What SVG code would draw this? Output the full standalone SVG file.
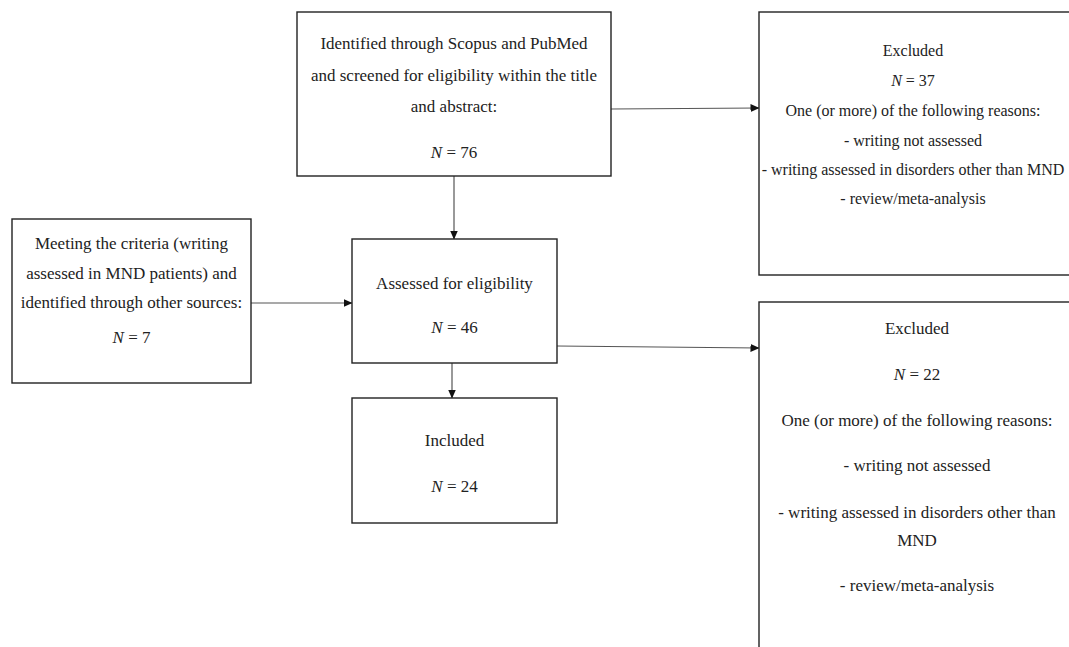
<svg xmlns="http://www.w3.org/2000/svg" width="1069" height="647" viewBox="0 0 1069 647">
<style>
.box{fill:#fff;stroke:#222;stroke-width:1.4}
.t{font-family:"Liberation Serif","Times New Roman",serif;font-size:17px;fill:#222;text-anchor:middle}
.s{font-size:16px}
.i{font-style:italic}
.c{stroke:#555;stroke-width:1.2;fill:none}
</style>
<defs>
<marker id="ah" markerUnits="userSpaceOnUse" markerWidth="9" markerHeight="8" refX="8.5" refY="4" orient="auto">
<path d="M0,0 L9,4 L0,8 z" fill="#111"/>
</marker>
</defs>
<rect width="1069" height="647" fill="#fff"/>
<g id="connectors">
<line class="c" x1="454" y1="176" x2="454" y2="239" marker-end="url(#ah)"/>
<line class="c" x1="251" y1="303" x2="352" y2="303" marker-end="url(#ah)"/>
<line class="c" x1="611" y1="109" x2="759" y2="108" marker-end="url(#ah)"/>
<line class="c" x1="557" y1="346" x2="759" y2="348" marker-end="url(#ah)"/>
<line class="c" x1="452" y1="363" x2="452" y2="398" marker-end="url(#ah)"/>
</g>
<g id="identified">
<rect class="box" x="297" y="12" width="314" height="164"/>
<text class="t" x="454" y="49">Identified through Scopus and PubMed</text>
<text class="t" x="454" y="81">and screened for eligibility within the title</text>
<text class="t" x="454" y="112">and abstract:</text>
<text class="t" x="454" y="158"><tspan class="i">N</tspan> = 76</text>
</g>
<g id="excluded1">
<rect class="box" x="759" y="12" width="312" height="263"/>
<text class="t s" x="913" y="56">Excluded</text>
<text class="t s" x="913" y="86"><tspan class="i">N</tspan> = 37</text>
<text class="t s" x="913" y="116">One (or more) of the following reasons:</text>
<text class="t s" x="913" y="146">- writing not assessed</text>
<text class="t s" x="913" y="175">- writing assessed in disorders other than MND</text>
<text class="t s" x="913" y="204">- review/meta-analysis</text>
</g>
<g id="other-sources">
<rect class="box" x="12" y="219" width="239" height="164"/>
<text class="t" x="131.5" y="249">Meeting the criteria (writing</text>
<text class="t" x="131.5" y="279">assessed in MND patients) and</text>
<text class="t" x="131.5" y="308">identified through other sources:</text>
<text class="t" x="131.5" y="343"><tspan class="i">N</tspan> = 7</text>
</g>
<g id="assessed">
<rect class="box" x="352" y="239" width="205" height="124"/>
<text class="t" x="454.5" y="289">Assessed for eligibility</text>
<text class="t" x="454.5" y="333"><tspan class="i">N</tspan> = 46</text>
</g>
<g id="included">
<rect class="box" x="352" y="398" width="205" height="125"/>
<text class="t" x="454.5" y="446">Included</text>
<text class="t" x="454.5" y="492"><tspan class="i">N</tspan> = 24</text>
</g>
<g id="excluded2">
<rect class="box" x="759" y="302" width="316" height="360"/>
<text class="t" x="917" y="334">Excluded</text>
<text class="t" x="917" y="380"><tspan class="i">N</tspan> = 22</text>
<text class="t" x="917" y="426">One (or more) of the following reasons:</text>
<text class="t" x="917" y="471">- writing not assessed</text>
<text class="t" x="917" y="518">- writing assessed in disorders other than</text>
<text class="t" x="917" y="546">MND</text>
<text class="t" x="917" y="591">- review/meta-analysis</text>
</g>
</svg>
